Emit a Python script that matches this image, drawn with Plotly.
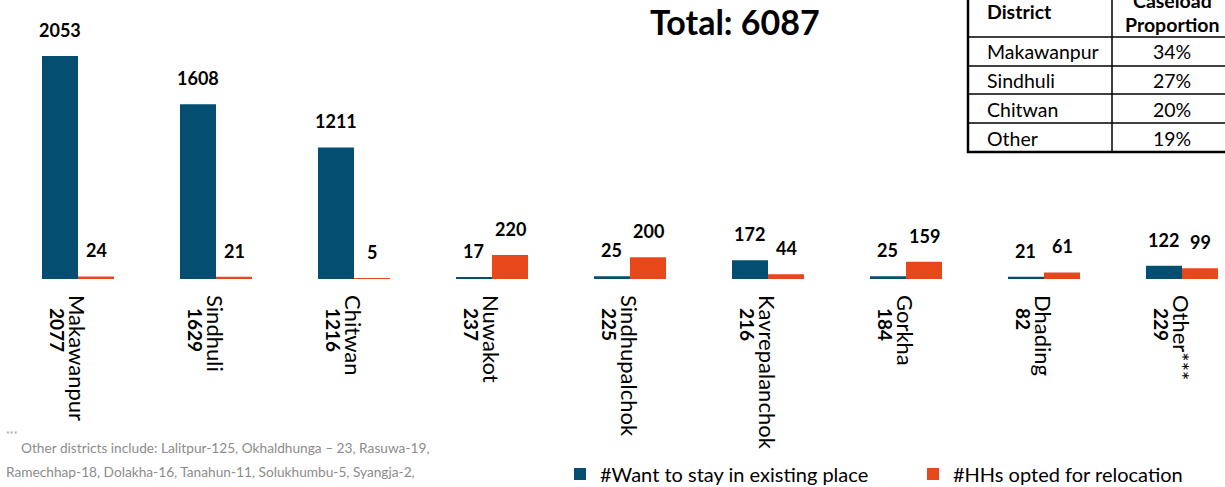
import plotly.graph_objects as go

# ---------------- data ----------------
districts = ["Makawanpur", "Sindhuli", "Chitwan", "Nuwakot", "Sindhupalchok",
             "Kavrepalanchok", "Gorkha", "Dhading", "Other***"]
district_totals = [2077, 1629, 1216, 237, 225, 216, 184, 82, 229]
stay_existing = [2053, 1608, 1211, 17, 25, 172, 25, 21, 122]
opted_relocation = [24, 21, 5, 220, 200, 44, 159, 61, 99]
series_names = ["#Want to stay in existing place", "#HHs opted for relocation"]
grand_total = 6087

table_districts = ["Makawanpur", "Sindhuli", "Chitwan", "Other"]
table_proportions = ["34%", "27%", "20%", "19%"]
table_headers = ["District", "Caseload", "Proportion"]

footnote_lines = [
    "Other districts include: Lalitpur-125, Okhaldhunga \u2013 23, Rasuwa-19,",
    "Ramechhap-18, Dolakha-16, Tanahun-11, Solukhumbu-5, Syangja-2,",
]

# ---------------- style / layout ----------------
W, H = 1225, 487
ML, MR, MT, MB = 9, 0, 0, 208
PW, PH = W - ML - MR, H - MT - MB
BLUE = "#044E71"
ORANGE = "#E8471A"
FONT = "Lato"
BARGAP = 0.478
CAT_PX = 138.0
XRANGE = [-0.5, -0.5 + PW / CAT_PX]
idx = list(range(len(districts)))


def px(x):
    return (x - ML) / PW


def py(y):
    return 1 - (y - MT) / PH


fig = go.Figure()
fig.add_trace(go.Bar(x=districts, y=stay_existing, name=series_names[0], legend="legend",
                     marker=dict(color=BLUE, line=dict(width=0)), hoverinfo="skip"))
fig.add_trace(go.Bar(x=districts, y=opted_relocation, name=series_names[1], legend="legend2",
                     marker=dict(color=ORANGE, line=dict(width=0)), hoverinfo="skip"))
# invisible carrier trace so the secondary (totals) label axis is drawn
fig.add_trace(go.Scatter(x=idx, y=district_totals, xaxis="x2", yaxis="y", mode="markers",
                         marker=dict(opacity=0, size=1), showlegend=False, hoverinfo="skip"))

annotations = []
off = (1 - BARGAP) / 4
for i, (a, b) in enumerate(zip(stay_existing, opted_relocation)):
    for xv, val in ((i - off, a), (i + off, b)):
        annotations.append(dict(x=xv, y=val, xref="x", yref="y", text=f"<b>{val}</b>",
                                showarrow=False, yshift=26, yanchor="middle",
                                font=dict(family=FONT, size=18, color="black")))

# title
annotations.append(dict(x=px(735), y=py(21), xref="paper", yref="paper",
                        text=f"<b>Total: {grand_total}</b>", showarrow=False,
                        xanchor="center", yanchor="middle",
                        font=dict(family=FONT, size=34, color="black")))

# footnote
annotations.append(dict(x=px(4), y=py(434), xref="paper", yref="paper", text="***",
                        showarrow=False, xanchor="left", yanchor="middle",
                        font=dict(family=FONT, size=9, color="#999999")))
annotations.append(dict(x=px(19), y=py(447), xref="paper", yref="paper", text=footnote_lines[0],
                        showarrow=False, xanchor="left", yanchor="middle",
                        font=dict(family=FONT, size=13.7, color="#8C8C8C")))
annotations.append(dict(x=px(4), y=py(471), xref="paper", yref="paper", text=footnote_lines[1],
                        showarrow=False, xanchor="left", yanchor="middle",
                        font=dict(family=FONT, size=13.7, color="#8C8C8C")))

# table
row_lines = [37, 66, 94, 123]
row_centers = [52, 81, 109, 138]
TFS = 19.5
COL2 = 1172
annotations.append(dict(x=px(985), y=py(12), xref="paper", yref="paper",
                        text=f"<b>{table_headers[0]}</b>", showarrow=False,
                        xanchor="left", yanchor="middle",
                        font=dict(family=FONT, size=TFS, color="black")))
annotations.append(dict(x=px(COL2), y=py(0), xref="paper", yref="paper",
                        text=f"<b>{table_headers[1]}</b>",
                        showarrow=False, xanchor="center", yanchor="middle",
                        font=dict(family=FONT, size=TFS, color="black")))
annotations.append(dict(x=px(COL2), y=py(24), xref="paper", yref="paper",
                        text=f"<b>{table_headers[2]}</b>",
                        showarrow=False, xanchor="center", yanchor="middle",
                        font=dict(family=FONT, size=TFS, color="black")))
for yc, d, p in zip(row_centers, table_districts, table_proportions):
    annotations.append(dict(x=px(985), y=py(yc), xref="paper", yref="paper", text=d,
                            showarrow=False, xanchor="left", yanchor="middle",
                            font=dict(family=FONT, size=TFS, color="black")))
    annotations.append(dict(x=px(COL2), y=py(yc), xref="paper", yref="paper", text=p,
                            showarrow=False, xanchor="center", yanchor="middle",
                            font=dict(family=FONT, size=TFS, color="black")))

shapes = []
shapes.append(dict(type="rect", xref="paper", yref="paper", x0=px(968), x1=px(1240),
                   y0=py(152), y1=py(-10), fillcolor="white", line=dict(width=0), layer="above"))
for yl in row_lines:
    shapes.append(dict(type="line", xref="paper", yref="paper", x0=px(968), x1=px(1240),
                       y0=py(yl), y1=py(yl), line=dict(color="black", width=1.5), layer="above"))
shapes.append(dict(type="line", xref="paper", yref="paper", x0=px(1112), x1=px(1112),
                   y0=py(152), y1=py(-10), line=dict(color="black", width=1.5), layer="above"))
shapes.append(dict(type="line", xref="paper", yref="paper", x0=px(968), x1=px(968),
                   y0=py(153), y1=py(-10), line=dict(color="black", width=2.5), layer="above"))
shapes.append(dict(type="line", xref="paper", yref="paper", x0=px(967), x1=px(1240),
                   y0=py(152), y1=py(152), line=dict(color="black", width=2.5), layer="above"))

total_text = [f"<b>{t}</b>" for t in district_totals]

legend_common = dict(orientation="h", xanchor="left", yanchor="middle",
                     font=dict(family=FONT, size=20, color="black"),
                     bgcolor="rgba(0,0,0,0)", itemclick=False, itemwidth=30)

fig.update_layout(
    width=W, height=H,
    margin=dict(l=ML, r=MR, t=MT, b=MB, pad=0, autoexpand=False),
    paper_bgcolor="white", plot_bgcolor="white",
    barmode="group", bargap=BARGAP, bargroupgap=0,
    font=dict(family=FONT, color="black"),
    showlegend=True, hovermode=False,
    legend=dict(x=px(560), y=py(474), **legend_common),
    legend2=dict(x=px(913), y=py(474), **legend_common),
    xaxis=dict(type="category", range=XRANGE,
               tickmode="array", tickvals=districts, ticktext=districts, tickangle=90,
               tickfont=dict(family=FONT, size=22, color="black"),
               ticklabelstandoff=15, ticklabelshift=-2, automargin=False,
               showgrid=False, showline=False, zeroline=False, ticks=""),
    xaxis2=dict(type="linear", overlaying="x", anchor="y", side="bottom", range=XRANGE,
                tickmode="array", tickvals=idx, ticktext=total_text,
                tickangle=90, tickfont=dict(family=FONT, size=19, color="black"),
                ticklabelstandoff=28, ticklabelshift=-22, automargin=False,
                showgrid=False, showline=False, zeroline=False, ticks=""),
    yaxis=dict(range=[0, PH / 0.1086], visible=False, showgrid=False, zeroline=False,
               automargin=False),
    annotations=annotations,
    shapes=shapes,
)

fig.write_html("out.html", config={"displayModeBar": False},
               post_script="document.body.style.margin='0';")
